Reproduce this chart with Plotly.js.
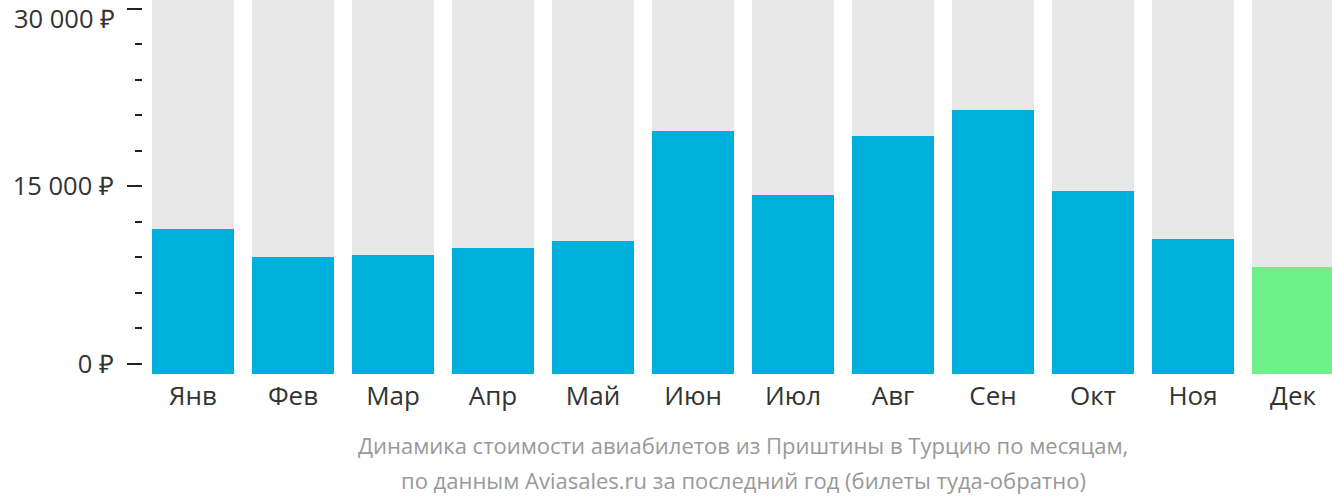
<!DOCTYPE html>
<html>
<head>
<meta charset="utf-8">
<script src="https://cdn.plot.ly/plotly-3.0.1.min.js"></script>
<style>html,body{margin:0;padding:0;background:#fff;}#chart{width:1332px;height:502px;}</style>
</head>
<body>
<div id="chart"></div>
<script>
const months = ["Янв","Фев","Мар","Апр","Май","Июн","Июл","Авг","Сен","Окт","Ноя","Дек"];
const prices = [11400, 9030, 9200, 9790, 10380, 19660, 14260, 19240, 21440, 14600, 10550, 8190];
const barColors = ["#00b0dc","#00b0dc","#00b0dc","#00b0dc","#00b0dc","#00b0dc","#00b0dc","#00b0dc","#00b0dc","#00b0dc","#00b0dc","#6df08a"];
const yTickVals = [0, 15000, 30000];
const yTickText = ["0 ₽", "15 000 ₽", "30 000 ₽"];
const titleLines = ["Динамика стоимости авиабилетов из Приштины в Турцию по месяцам,", "по данным Aviasales.ru за последний год (билеты туда-обратно)"];

const yMin = -844, yMax = 30718;
const xIdx = months.map((_, i) => i);

const bg = {
  type: 'bar', x: xIdx, y: months.map(() => yMax - yMin), base: yMin,
  marker: {color: '#e8e8e8'}, width: 0.82, hoverinfo: 'skip', showlegend: false
};
const fg = {
  type: 'bar', x: xIdx, y: prices.map(p => p - yMin), base: yMin,
  marker: {color: barColors}, width: 0.82, showlegend: false,
  customdata: prices, hovertemplate: '%{customdata} ₽<extra></extra>'
};

// The top label sits slightly below its tick so it stays inside the picture
const topIdx = yTickVals.length - 1;
const shownTickText = yTickText.map((t, i) => i === topIdx ? '' : t);

const layout = {
  width: 1332, height: 502,
  margin: {l: 143, r: 0, t: 0, b: 128},
  paper_bgcolor: '#fff', plot_bgcolor: '#fff',
  barmode: 'overlay',
  font: {family: 'Open Sans, sans-serif', color: '#333'},
  xaxis: {
    range: [-0.5, 11.39], tickvals: xIdx, ticktext: months,
    showgrid: false, zeroline: false, showline: false, ticks: '',
    tickfont: {size: 26, color: '#333'}, ticklabelstandoff: 4, fixedrange: true
  },
  yaxis: {
    range: [yMin, yMax], tickvals: yTickVals, ticktext: shownTickText,
    showgrid: false, zeroline: false, showline: false,
    ticks: 'outside', ticklen: 15, tickwidth: 2, tickcolor: '#222',
    tickfont: {size: 25.5, color: '#333'}, ticklabelstandoff: 8,
    ticklabeloverflow: 'allow',
    minor: {tick0: 0, dtick: 3000, ticks: 'outside', ticklen: 7, tickwidth: 2, tickcolor: '#222'},
    fixedrange: true
  },
  annotations: titleLines.map((t, i) => ({
    text: t, xref: 'x', yref: 'paper', x: 5.5, y: i === 0 ? -0.1898 : -0.2834,
    xanchor: 'center', yanchor: 'middle', showarrow: false,
    font: {size: 22, color: '#999'}
  })).concat([{
    text: yTickText[topIdx], xref: 'paper', yref: 'paper',
    x: -0.0215, y: 1, xanchor: 'right', yanchor: 'top', yshift: 1,
    showarrow: false, font: {size: 25.5, color: '#333'}
  }])
};

Plotly.newPlot('chart', [bg, fg], layout, {displayModeBar: false, staticPlot: true});
</script>
</body>
</html>
